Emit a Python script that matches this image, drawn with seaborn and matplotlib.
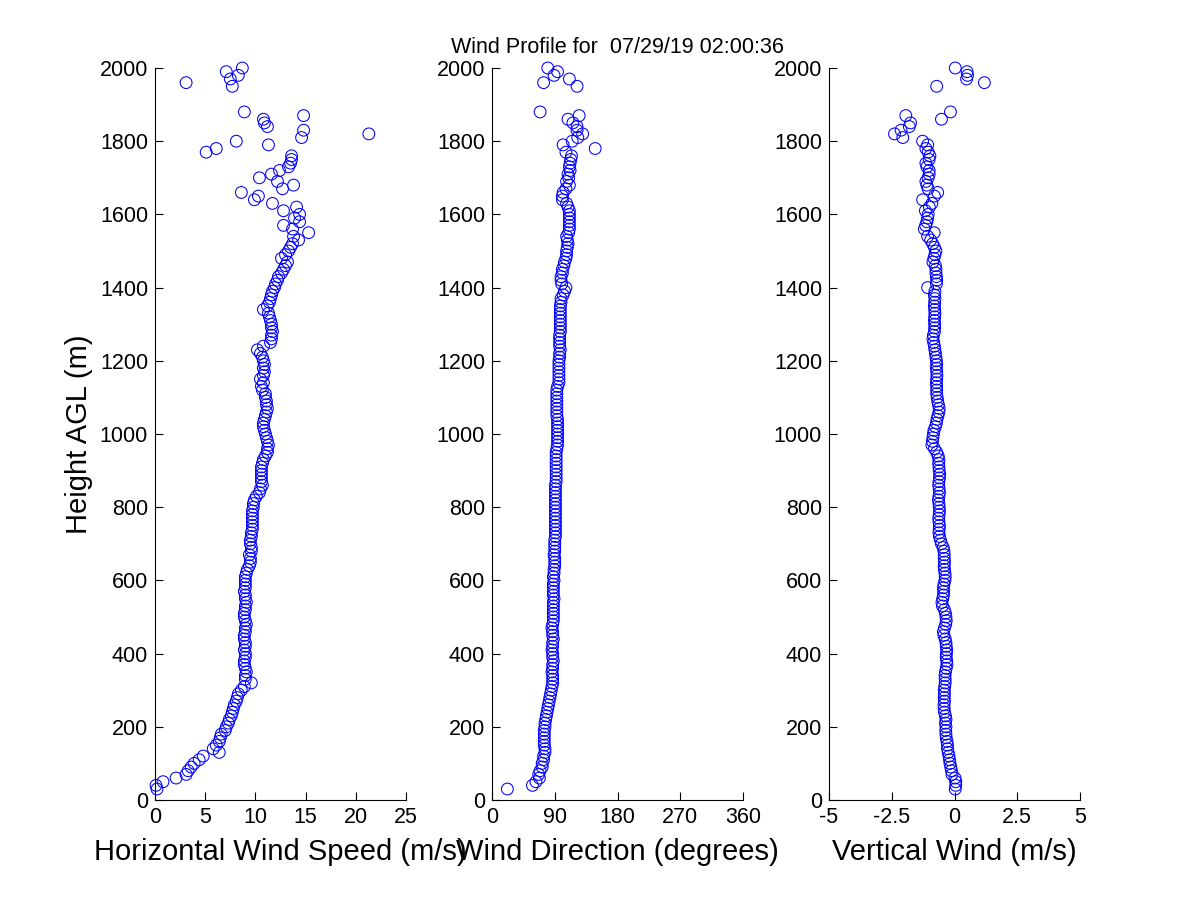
import numpy as np
import pandas as pd
from matplotlib import pyplot as plt
import seaborn as sns

# range gates (m AGL); gates 1890-1940 have no valid retrievals
height = [
    30, 40, 50, 60, 70, 80, 90, 100, 110, 120,
    130, 140, 150, 160, 170, 180, 190, 200, 210, 220,
    230, 240, 250, 260, 270, 280, 290, 300, 310, 320,
    330, 340, 350, 360, 370, 380, 390, 400, 410, 420,
    430, 440, 450, 460, 470, 480, 490, 500, 510, 520,
    530, 540, 550, 560, 570, 580, 590, 600, 610, 620,
    630, 640, 650, 660, 670, 680, 690, 700, 710, 720,
    730, 740, 750, 760, 770, 780, 790, 800, 810, 820,
    830, 840, 850, 860, 870, 880, 890, 900, 910, 920,
    930, 940, 950, 960, 970, 980, 990, 1000, 1010, 1020,
    1030, 1040, 1050, 1060, 1070, 1080, 1090, 1100, 1110, 1120,
    1130, 1140, 1150, 1160, 1170, 1180, 1190, 1200, 1210, 1220,
    1230, 1240, 1250, 1260, 1270, 1280, 1290, 1300, 1310, 1320,
    1330, 1340, 1350, 1360, 1370, 1380, 1390, 1400, 1410, 1420,
    1430, 1440, 1450, 1460, 1470, 1480, 1490, 1500, 1510, 1520,
    1530, 1540, 1550, 1560, 1570, 1580, 1590, 1600, 1610, 1620,
    1630, 1640, 1650, 1660, 1670, 1680, 1690, 1700, 1710, 1720,
    1730, 1740, 1750, 1760, 1770, 1780, 1790, 1800, 1810, 1820,
    1830, 1840, 1850, 1860, 1870, 1880, 1950, 1960, 1970, 1980, 1990, 2000,
]

speed = [
    0.2, 0.1, 0.8, 2.1, 3.1, 3.3, 3.6, 3.9, 4.4, 4.8,
    6.4, 5.8, 6.1, 6.4, 6.5, 6.6, 7.0, 7.1, 7.3, 7.4,
    7.6, 7.7, 7.8, 7.9, 8.1, 8.2, 8.3, 8.6, 8.9, 9.6,
    9.0, 9.0, 9.1, 9.0, 8.9, 8.9, 9.0, 9.0, 8.9, 9.0,
    9.0, 8.9, 8.9, 9.0, 9.0, 9.1, 9.0, 8.9, 8.9, 9.0,
    9.0, 9.1, 9.0, 9.0, 8.9, 9.0, 9.0, 9.0, 9.0, 9.1,
    9.2, 9.4, 9.5, 9.5, 9.4, 9.6, 9.6, 9.5, 9.5, 9.6,
    9.6, 9.7, 9.7, 9.7, 9.7, 9.7, 9.7, 9.8, 9.8, 9.9,
    10.1, 10.4, 10.5, 10.7, 10.6, 10.6, 10.6, 10.6, 10.6, 10.7,
    10.8, 11.0, 11.2, 11.2, 11.3, 11.2, 11.1, 11.0, 10.9, 10.8,
    10.8, 10.9, 11.0, 11.1, 11.2, 11.1, 11.1, 11.0, 11.0, 10.7,
    10.6, 10.8, 10.5, 10.8, 10.9, 10.8, 10.9, 10.8, 10.7, 10.5,
    10.2, 10.8, 11.5, 11.6, 11.6, 11.7, 11.6, 11.6, 11.5, 11.4,
    11.3, 10.8, 11.2, 11.4, 11.5, 11.6, 11.7, 11.9, 12.0, 12.2,
    12.3, 12.6, 12.8, 13.0, 13.2, 12.6, 13.0, 13.3, 13.5, 13.7,
    14.3, 13.8, 15.3, 13.7, 12.8, 14.4, 13.9, 14.4, 12.8, 14.1,
    11.7, 9.9, 10.3, 8.6, 12.7, 13.8, 12.2, 10.4, 11.6, 12.4,
    13.3, 13.5, 13.6, 13.6, 5.1, 6.1, 11.3, 8.1, 14.6, 21.3,
    14.8, 11.2, 10.9, 10.8, 14.8, 8.9, 7.7, 3.1, 7.5, 8.3, 7.1, 8.7,
]

direction = [
    22, 58, 63, 68, 67, 69, 72, 72, 74, 74,
    76, 76, 75, 75, 75, 75, 75, 76, 76, 77,
    78, 79, 80, 81, 82, 83, 84, 85, 86, 87,
    87, 87, 86, 87, 87, 88, 87, 87, 86, 87,
    87, 88, 87, 87, 86, 87, 88, 88, 88, 88,
    88, 88, 89, 88, 88, 88, 88, 89, 88, 89,
    89, 90, 90, 90, 89, 90, 90, 90, 90, 91,
    91, 91, 91, 91, 91, 91, 91, 91, 91, 91,
    91, 91, 91, 91, 92, 92, 92, 92, 92, 92,
    92, 92, 92, 93, 94, 94, 94, 94, 94, 94,
    94, 94, 93, 93, 93, 93, 93, 93, 93, 93,
    94, 96, 96, 96, 96, 96, 96, 96, 97, 97,
    98, 97, 97, 97, 97, 98, 98, 98, 98, 98,
    98, 98, 98, 99, 99, 102, 104, 106, 100, 99,
    99, 101, 101, 103, 104, 106, 107, 107, 108, 109,
    108, 107, 110, 111, 111, 111, 111, 111, 111, 109,
    107, 101, 101, 102, 106, 111, 107, 110, 109, 112,
    111, 112, 113, 114, 106, 148, 102, 115, 123, 130,
    122, 122, 116, 109, 125, 69, 122, 74, 111, 89, 94, 80,
]

vertical = [
    0.03, 0.05, 0.05, 0.02, -0.10, -0.12, -0.15, -0.18, -0.20, -0.22,
    -0.25, -0.28, -0.28, -0.30, -0.33, -0.34, -0.35, -0.34, -0.36, -0.34,
    -0.36, -0.40, -0.41, -0.42, -0.40, -0.41, -0.40, -0.41, -0.39, -0.37,
    -0.37, -0.38, -0.36, -0.33, -0.30, -0.31, -0.33, -0.32, -0.31, -0.33,
    -0.34, -0.37, -0.42, -0.44, -0.40, -0.35, -0.33, -0.34, -0.36, -0.40,
    -0.48, -0.50, -0.47, -0.44, -0.43, -0.44, -0.42, -0.38, -0.37, -0.38,
    -0.40, -0.41, -0.40, -0.41, -0.41, -0.42, -0.45, -0.52, -0.56, -0.60,
    -0.62, -0.61, -0.60, -0.62, -0.63, -0.61, -0.60, -0.61, -0.62, -0.64,
    -0.62, -0.60, -0.61, -0.63, -0.62, -0.60, -0.59, -0.61, -0.62, -0.63,
    -0.62, -0.65, -0.71, -0.80, -0.90, -0.88, -0.86, -0.84, -0.82, -0.76,
    -0.72, -0.70, -0.66, -0.62, -0.61, -0.64, -0.67, -0.69, -0.71, -0.71,
    -0.71, -0.72, -0.71, -0.70, -0.71, -0.72, -0.71, -0.72, -0.74, -0.76,
    -0.78, -0.80, -0.83, -0.86, -0.84, -0.80, -0.79, -0.79, -0.80, -0.79,
    -0.78, -0.79, -0.80, -0.79, -0.78, -0.80, -0.78, -1.07, -0.72, -0.71,
    -0.72, -0.74, -0.74, -0.76, -0.86, -0.82, -0.78, -0.74, -0.80, -0.87,
    -0.95, -1.07, -0.81, -1.20, -1.15, -1.10, -1.07, -1.05, -1.16, -1.00,
    -0.90, -1.27, -0.80, -0.67, -1.05, -1.10, -1.14, -1.05, -1.01, -1.01,
    -1.10, -1.14, -1.01, -0.98, -1.05, -1.14, -1.07, -1.27, -2.06, -2.39,
    -2.13, -1.80, -1.75, -0.52, -1.94, -0.16, -0.71, 1.19, 0.48, 0.52, 0.50, 0.03,
]

title = "Wind Profile for  07/29/19 02:00:36"

panels = [
    ("speed", "Horizontal Wind Speed (m/s)", (0, 25), [0, 5, 10, 15, 20, 25], None),
    ("direction", "Wind Direction (degrees)", (0, 360), [0, 90, 180, 270, 360], None),
    ("vertical", "Vertical Wind (m/s)", (-5, 5), [-5, -2.5, 0, 2.5, 5],
     ["-5", "-2.5", "0", "2.5", "5"]),
]

df = pd.DataFrame({"height": height, "speed": speed,
                   "direction": direction, "vertical": vertical})

sns.set_style("ticks")
plt.rcParams["font.family"] = ["Liberation Sans", "DejaVu Sans"]
plt.rcParams["xtick.direction"] = "in"
plt.rcParams["ytick.direction"] = "in"
plt.rcParams["text.color"] = "black"
plt.rcParams["axes.labelcolor"] = "black"

fig = plt.figure(figsize=(12, 9), dpi=100)
lefts = [155 / 1200, 492 / 1200, 829 / 1200]

for i, (col, xlab, xlim, xticks, xticklabels) in enumerate(panels):
    ax = fig.add_axes([lefts[i], 100 / 900, 251 / 1200, 732 / 900])
    sns.scatterplot(data=df, x=col, y="height", ax=ax, marker="o", s=72,
                    facecolor="none", edgecolor="#0000ff", linewidth=0.75,
                    clip_on=False)
    ax.set_xlim(*xlim)
    ax.set_ylim(0, 2000)
    ax.set_xticks(xticks)
    if xticklabels:
        ax.set_xticklabels(xticklabels)
    ax.set_yticks(range(0, 2001, 200))
    ax.tick_params(labelsize=15.5, length=6, width=0.8, colors="black", pad=5)
    sns.despine(ax=ax)
    for s in ["left", "bottom"]:
        ax.spines[s].set_linewidth(0.8)
        ax.spines[s].set_color("black")
    ax.set_xlabel(xlab, fontsize=21, labelpad=7, color="black")
    if i == 0:
        ax.set_ylabel("Height AGL (m)", fontsize=21, labelpad=5, color="black")
    else:
        ax.set_ylabel("")
    if i == 1:
        ax.set_title(title, fontsize=15.5, pad=11, color="black")

fig.savefig("out.png", dpi=100, facecolor="white")
